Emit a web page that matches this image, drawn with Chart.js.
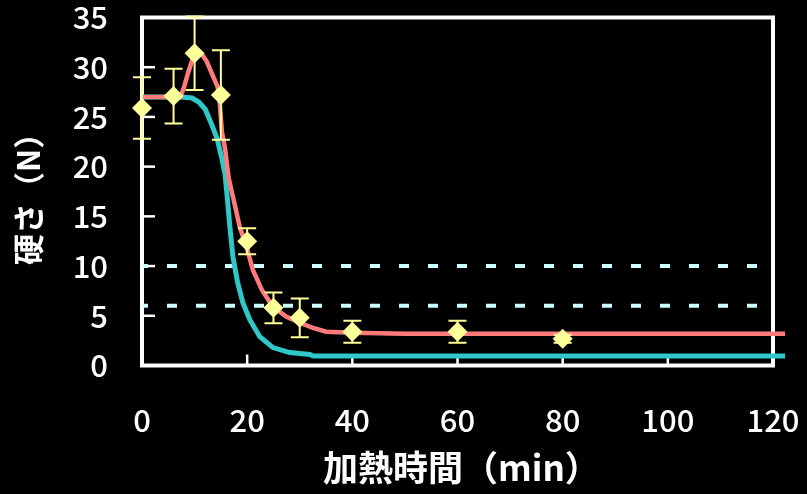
<!DOCTYPE html>
<html>
<head>
<meta charset="utf-8">
<script src="https://cdn.jsdelivr.net/npm/chart.js@4/dist/chart.umd.min.js"></script>
<style>
  html, body { margin: 0; padding: 0; background: #000; }
  #wrap { width: 807px; height: 494px; }
</style>
</head>
<body>
<div id="wrap"><canvas id="c" width="807" height="494"></canvas></div>
<script>
// Measured hardness (mean ± SD) at each heating time
const times = [0, 6, 10, 15, 20, 25, 30, 40, 60, 80];
const hardness = [25.9, 27.1, 31.4, 27.2, 12.5, 5.8, 4.8, 3.4, 3.4, 2.7];
const hardnessSd = [3.1, 2.75, 3.7, 4.5, 1.3, 1.55, 1.95, 1.1, 1.1, 0.4];

// Model curve (upper, red)
const redX = [0, 7.3, 8, 8.8, 9.6, 10.5, 11.4, 12.3, 13.5, 14.4, 14.8, 15.2, 15.8, 16.5, 17.5, 18.6, 19.9, 21.1, 22.8, 24.9, 27.5, 30, 32.4, 35, 40, 50, 122.3];
const redY = [27, 27, 28, 29.5, 30.8, 31.5, 31.3, 30.6, 29.1, 28, 26.3, 23.5, 21.8, 18.8, 16.5, 13.9, 11.9, 9.6, 7.6, 5.9, 4.9, 4.3, 3.8, 3.4, 3.3, 3.2, 3.2];

// Model curve (lower, cyan)
const cyanX = [0, 7.6, 9.5, 10.8, 12, 13.2, 14.3, 15.2, 15.8, 16.2, 16.7, 17.3, 18.2, 19.2, 20.5, 22.4, 24.9, 28.1, 31.9, 32.6, 122.3];
const cyanY = [27, 27, 26.9, 26.5, 25.8, 24.3, 22.8, 20.8, 19.2, 17, 14, 10.9, 8.3, 6.3, 4.6, 2.9, 1.8, 1.3, 1.1, 0.95, 0.95];

// Reference levels (dashed)
const refLevels = [10, 6];
const refSpan = [0, 120];

// Axis ticks and titles
const xTicks = [0, 20, 40, 60, 80, 100, 120];
const yTicks = [0, 5, 10, 15, 20, 25, 30, 35];
const xTitle = '加熱時間（min）';
const yTitle = '硬さ（N）';

const toPoints = (xs, ys) => xs.map((x, i) => ({ x: x, y: ys[i] }));

const FONT = "'Noto Sans CJK JP', 'DejaVu Sans', sans-serif";
const MARK = '#ffff99';

// Fixed plot box: no automatic label padding
function fixBox(s) {
  s.paddingTop = 0; s.paddingBottom = 0; s.paddingLeft = 0; s.paddingRight = 0;
}

// Frame, inward tick marks, error bars and axis titles
const framePlugin = {
  id: 'frame',
  beforeDatasetsDraw(chart) {
    const { ctx, chartArea: a, scales } = chart;
    ctx.save();
    ctx.strokeStyle = '#ffffff';
    ctx.lineWidth = 2.5;
    yTicks.forEach(v => {
      const py = scales.y.getPixelForValue(v);
      ctx.beginPath();
      ctx.moveTo(a.left, py);
      ctx.lineTo(a.left + 13, py);
      ctx.stroke();
    });
    xTicks.forEach(v => {
      const px = scales.x.getPixelForValue(v);
      ctx.beginPath();
      ctx.moveTo(px, a.bottom);
      ctx.lineTo(px, a.bottom - 11);
      ctx.stroke();
    });
    ctx.lineWidth = 4;
    ctx.strokeRect(a.left, a.top, a.right - a.left, a.bottom - a.top);
    ctx.restore();
  },
  beforeDatasetDraw(chart, args) {
    if (chart.data.datasets[args.index].label !== 'measured') return;
    const { ctx, scales } = chart;
    ctx.save();
    ctx.strokeStyle = MARK;
    ctx.lineWidth = 2;
    times.forEach((t, i) => {
      const px = scales.x.getPixelForValue(t);
      const hi = scales.y.getPixelForValue(hardness[i] + hardnessSd[i]);
      const lo = scales.y.getPixelForValue(hardness[i] - hardnessSd[i]);
      ctx.beginPath();
      ctx.moveTo(px, hi); ctx.lineTo(px, lo);
      ctx.moveTo(px - 9, hi); ctx.lineTo(px + 9, hi);
      ctx.moveTo(px - 9, lo); ctx.lineTo(px + 9, lo);
      ctx.stroke();
    });
    ctx.restore();
  },
  afterDraw(chart) {
    const { ctx } = chart;
    ctx.save();
    ctx.fillStyle = '#ffffff';
    ctx.textBaseline = 'middle';
    ctx.textAlign = 'left';
    ctx.font = 'bold 35px ' + FONT;
    ctx.fillText(xTitle, 323, 468);
    ctx.font = 'bold 31px ' + FONT;
    ctx.translate(28, 265);
    ctx.rotate(-Math.PI / 2);
    ctx.fillText(yTitle, 0, 0);
    ctx.restore();
  }
};

const datasets = [
  {
    label: 'measured',
    type: 'scatter',
    data: toPoints(times, hardness),
    backgroundColor: MARK,
    borderWidth: 0,
    pointStyle: 'rectRot',
    pointRadius: 10,
    showLine: false,
    clip: false,
    order: 0
  },
  {
    label: 'upper',
    data: toPoints(redX, redY),
    borderColor: '#ff7b7b',
    borderWidth: 4.5,
    pointRadius: 0,
    tension: 0,
    clip: false,
    order: 1
  },
  {
    label: 'lower',
    data: toPoints(cyanX, cyanY),
    borderColor: '#2ec8c8',
    borderWidth: 5,
    pointRadius: 0,
    tension: 0,
    clip: false,
    order: 2
  }
];
refLevels.forEach((lv, i) => {
  datasets.push({
    label: 'ref' + i,
    data: refSpan.map(x => ({ x: x, y: lv })),
    borderColor: '#ccffff',
    borderWidth: 4,
    borderDash: [10, 19],
    borderDashOffset: 4,
    pointRadius: 0,
    order: 3
  });
});

new Chart(document.getElementById('c'), {
  type: 'line',
  data: { datasets: datasets },
  plugins: [framePlugin],
  options: {
    responsive: false,
    devicePixelRatio: 1,
    animation: false,
    events: [],
    layout: { padding: { top: 17.5, right: 34, left: 0, bottom: 0 } },
    plugins: { legend: { display: false }, tooltip: { enabled: false } },
    scales: {
      x: {
        type: 'linear',
        position: 'bottom',
        min: 0,
        max: 120,
        afterBuildTicks: s => { s.ticks = xTicks.map(v => ({ value: v })); },
        afterFit: s => { s.height = 128.5; fixBox(s); },
        grid: { display: false, drawTicks: false },
        border: { display: false },
        ticks: { color: '#ffffff', padding: 36, font: { family: FONT, size: 31, weight: '500' } }
      },
      y: {
        type: 'linear',
        min: 0,
        max: 35,
        afterBuildTicks: s => { s.ticks = yTicks.map(v => ({ value: v })); },
        afterFit: s => { s.width = 142; fixBox(s); },
        grid: { display: false, drawTicks: false },
        border: { display: false },
        ticks: { color: '#ffffff', padding: 34, font: { family: FONT, size: 31, weight: '500' } }
      }
    }
  }
});
</script>
</body>
</html>
